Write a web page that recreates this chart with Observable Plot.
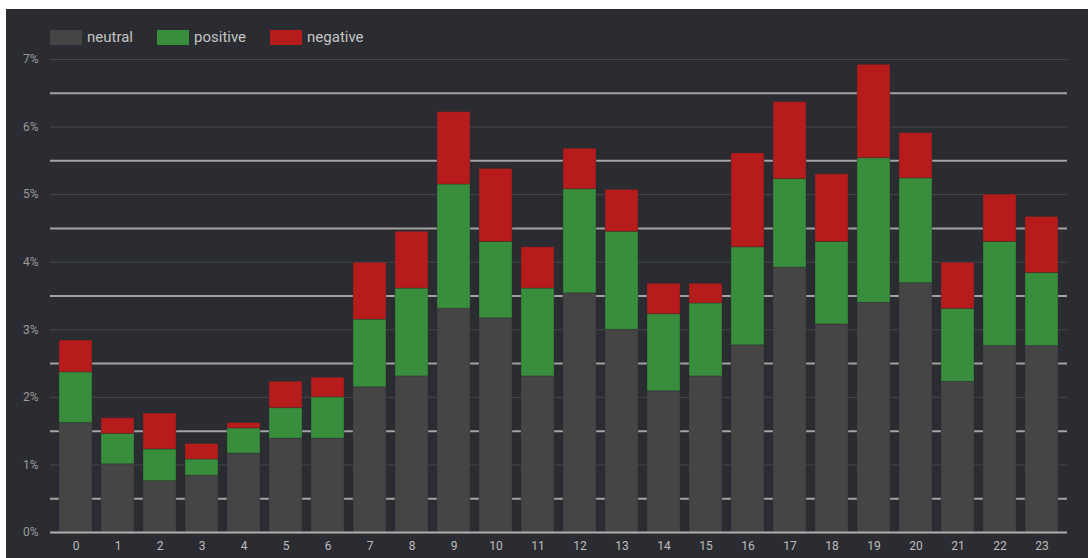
<!DOCTYPE html>
<html>
<head>
<meta charset="utf-8">
<script src="https://cdn.jsdelivr.net/npm/d3@7"></script>
<script src="https://cdn.jsdelivr.net/npm/@observablehq/plot@0.6"></script>
<style>
  html, body { margin: 0; padding: 0; background: #ffffff; }
  #wrap { position: absolute; left: 6px; top: 9px; width: 1082px; height: 549px; background: #2b2c31; font-family: Roboto, "Noto Sans", sans-serif; overflow: hidden; }
  #legend { position: absolute; left: 44px; top: 19px; display: flex; align-items: center; font-size: 15px; color: #c4c4c4; }
  .item { display: flex; align-items: center; margin-right: 24px; }
  .sw { width: 32px; height: 15px; margin-right: 5px; }
  #chart { position: absolute; left: 0; top: 41px; }
</style>
</head>
<body>
<div id="wrap">
  <div id="legend"></div>
  <div id="chart"></div>
</div>
<script>
const hours = d3.range(0, 24).map(String);
const categories = ["neutral", "positive", "negative"];
const colors = ["#454545", "#388e3c", "#b71c1c"];
const neutral  = [1.62, 1.01, 0.76, 0.84, 1.17, 1.39, 1.39, 2.15, 2.31, 3.31, 3.17, 2.31, 3.54, 3.00, 2.09, 2.31, 2.77, 3.92, 3.08, 3.40, 3.69, 2.23, 2.76, 2.76];
const positive = [0.75, 0.45, 0.47, 0.24, 0.37, 0.45, 0.61, 1.00, 1.30, 1.84, 1.13, 1.30, 1.54, 1.45, 1.14, 1.08, 1.45, 1.31, 1.22, 2.14, 1.55, 1.08, 1.54, 1.08];
const negative = [0.47, 0.23, 0.53, 0.23, 0.08, 0.39, 0.29, 0.84, 0.84, 1.07, 1.08, 0.61, 0.60, 0.62, 0.45, 0.29, 1.39, 1.14, 1.00, 1.38, 0.67, 0.68, 0.70, 0.83];
const yTicks = [0, 1, 2, 3, 4, 5, 6, 7];
const halfLines = [0.5, 1.5, 2.5, 3.5, 4.5, 5.5, 6.5];

const series = [neutral, positive, negative];
const data = [];
hours.forEach((h, i) => categories.forEach((c, k) => data.push({hour: h, category: c, value: series[k][i]})));

// legend
const legend = document.getElementById("legend");
categories.forEach((c, k) => {
  const it = document.createElement("div");
  it.className = "item";
  it.innerHTML = `<div class="sw" style="background:${colors[k]}"></div><span>${c}</span>`;
  legend.appendChild(it);
});

const chart = Plot.plot({
  width: 1082,
  height: 508,
  marginLeft: 44,
  marginRight: 21,
  marginTop: 9,
  marginBottom: 26,
  style: { background: "transparent", fontFamily: "Roboto, 'Noto Sans', sans-serif", overflow: "visible" },
  x: { domain: hours, paddingInner: 0.22, paddingOuter: 0.12, label: null },
  y: { domain: [0, 7], label: null },
  color: { domain: categories, range: colors },
  marks: [
    Plot.ruleY(yTicks.filter(d => d > 0), { stroke: "#45474d", strokeWidth: 1 }),
    Plot.ruleY(halfLines, { stroke: "#a3a3a3", strokeWidth: 2 }),
    Plot.barY(data, Plot.stackY({ order: categories }, {
      x: "hour", y: "value", z: "category", fill: "category",
      stroke: "#2b2c31", strokeOpacity: 0.35, strokeWidth: 1
    })),
    Plot.ruleY([0], { stroke: "#b0b0b0", strokeWidth: 2 }),
    Plot.axisY({ ticks: yTicks, tickSize: 0, tickPadding: 12, tickFormat: d => d + "%", fontSize: 12, color: "#9a9a9a", label: null }),
    Plot.axisX({ tickSize: 0, tickPadding: 9, fontSize: 12, color: "#bdbdbd", label: null })
  ]
});
document.getElementById("chart").appendChild(chart);
</script>
</body>
</html>
